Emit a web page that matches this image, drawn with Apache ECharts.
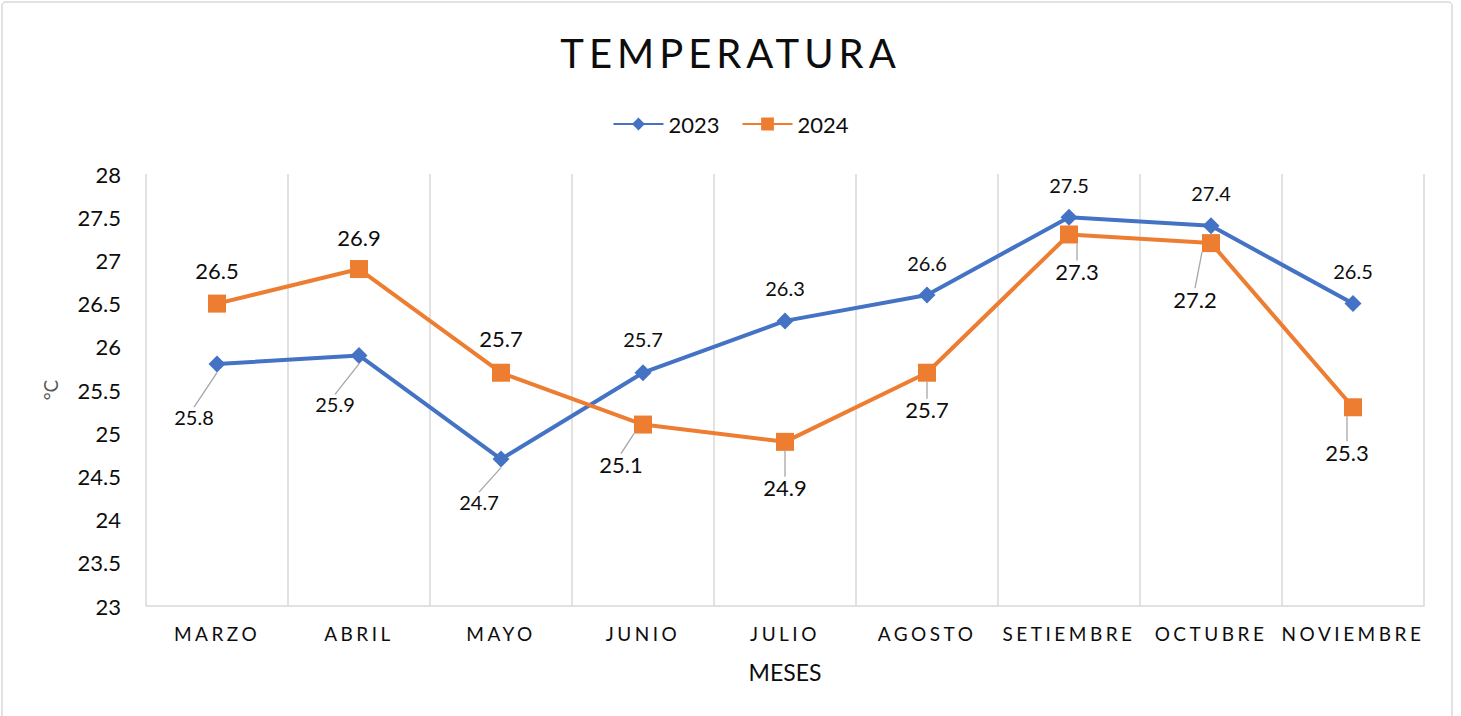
<!DOCTYPE html>
<html>
<head>
<meta charset="utf-8">
<script src="https://cdn.jsdelivr.net/npm/echarts@6/dist/echarts.min.js"></script>
<style>
    html, body { margin: 0; padding: 0; background: #fff; }
    #main { width: 1461px; height: 716px; }
</style>
</head>
<body>
<div id="main"></div>
<script>
//数据
var meses = ['MARZO', 'ABRIL', 'MAYO', 'JUNIO', 'JULIO', 'AGOSTO', 'SETIEMBRE', 'OCTUBRE', 'NOVIEMBRE'];
var temp2023 = [25.8, 25.9, 24.7, 25.7, 26.3, 26.6, 27.5, 27.4, 26.5];
var temp2024 = [26.5, 26.9, 25.7, 25.1, 24.9, 25.7, 27.3, 27.2, 25.3];

//标签偏移 (dx, dy) 以及是否显示引导线
var offs2023 = [[-23, 53], [-24, 49], [-22, 43], [0, -34], [0, -33], [0, -32], [0, -32], [0, -33], [0, -33]];
var lines2023 = [true, true, true, false, false, false, false, false, false];
var offs2024 = [[0, -33], [0, -32], [0, -34], [-22, 40], [0, 46], [0, 37], [8, 37], [-16, 56], [-6, 45]];
var lines2024 = [false, false, false, true, true, true, true, true, true];

var FONT = 'Lato, "Noto Sans", sans-serif';
var INK = '#0d0d0d';

function buildData(values, lines) {
    return values.map(function (v, i) {
        return { value: v, labelLine: { show: lines[i] } };
    });
}

function layoutFor(offs) {
    return function (params) {
        var o = offs[params.dataIndex];
        return { dx: o[0], dy: o[1] };
    };
}

var myChart = echarts.init(document.getElementById('main'), null, { renderer: 'svg' });

var option = {
    animation: false,
    backgroundColor: '#fff',
    textStyle: { fontFamily: FONT },
    graphic: [{
        type: 'rect',
        shape: { x: 2, y: 2, width: 1450, height: 730, r: 4 },
        style: { fill: 'none', stroke: '#D9D9D9', lineWidth: 1.5 },
        silent: true
    }],
    title: {
        text: 'TEMPERATURA',
        left: 'center',
        top: 28,
        textStyle: { fontFamily: FONT, fontSize: 40, fontWeight: 'normal', color: INK }
    },
    legend: {
        top: 108,
        left: 'center',
        itemWidth: 50,
        itemHeight: 16,
        itemGap: 22,
        textStyle: { fontFamily: FONT, fontSize: 22, color: INK },
        data: ['2023', '2024']
    },
    grid: { left: 146, right: 37, top: 174, bottom: 110 },
    xAxis: {
        type: 'category',
        data: meses,
        boundaryGap: true,
        name: 'MESES',
        nameLocation: 'middle',
        nameGap: 54,
        nameTextStyle: { fontFamily: FONT, fontSize: 23, color: INK },
        axisLine: { lineStyle: { color: '#D9D9D9', width: 1.5 } },
        axisTick: { show: false },
        axisLabel: { interval: 0, margin: 18, fontFamily: FONT, fontSize: 19, color: INK },
        splitLine: { show: true, interval: 0, lineStyle: { color: '#D9D9D9', width: 1.5 } }
    },
    yAxis: {
        type: 'value',
        min: 23,
        max: 28,
        interval: 0.5,
        name: '°C',
        nameLocation: 'middle',
        nameGap: 86,
        nameTextStyle: { fontFamily: FONT, fontSize: 19, color: '#595959' },
        axisLine: { show: false },
        axisTick: { show: false },
        splitLine: { show: false },
        axisLabel: { margin: 25, fontFamily: FONT, fontSize: 22, color: INK }
    },
    series: [{
        name: '2023',
        type: 'line',
        data: buildData(temp2023, lines2023),
        symbol: 'diamond',
        symbolSize: 17,
        lineStyle: { color: '#4472C4', width: 4 },
        itemStyle: { color: '#4472C4' },
        label: { show: true, position: 'inside', fontFamily: FONT, fontSize: 20, color: INK },
        labelLine: { show: true, lineStyle: { color: '#A6A6A6', width: 1.3 } },
        labelLayout: layoutFor(offs2023)
    }, {
        name: '2024',
        type: 'line',
        data: buildData(temp2024, lines2024),
        symbol: 'rect',
        symbolSize: 18,
        lineStyle: { color: '#ED7D31', width: 4 },
        itemStyle: { color: '#ED7D31' },
        label: { show: true, position: 'inside', fontFamily: FONT, fontSize: 22, color: INK },
        labelLine: { show: true, lineStyle: { color: '#A6A6A6', width: 1.3 } },
        labelLayout: layoutFor(offs2024)
    }]
};

myChart.setOption(option);

//字间距 (仅标题和月份)
function spaceLetters() {
    var nodes = document.querySelectorAll('#main text');
    for (var i = 0; i < nodes.length; i++) {
        var t = nodes[i].textContent;
        if (t === 'TEMPERATURA') {
            nodes[i].style.letterSpacing = '5px';
        } else if (meses.indexOf(t) >= 0) {
            nodes[i].style.letterSpacing = '3.5px';
        }
    }
}
myChart.on('finished', spaceLetters);
spaceLetters();
</script>
</body>
</html>
